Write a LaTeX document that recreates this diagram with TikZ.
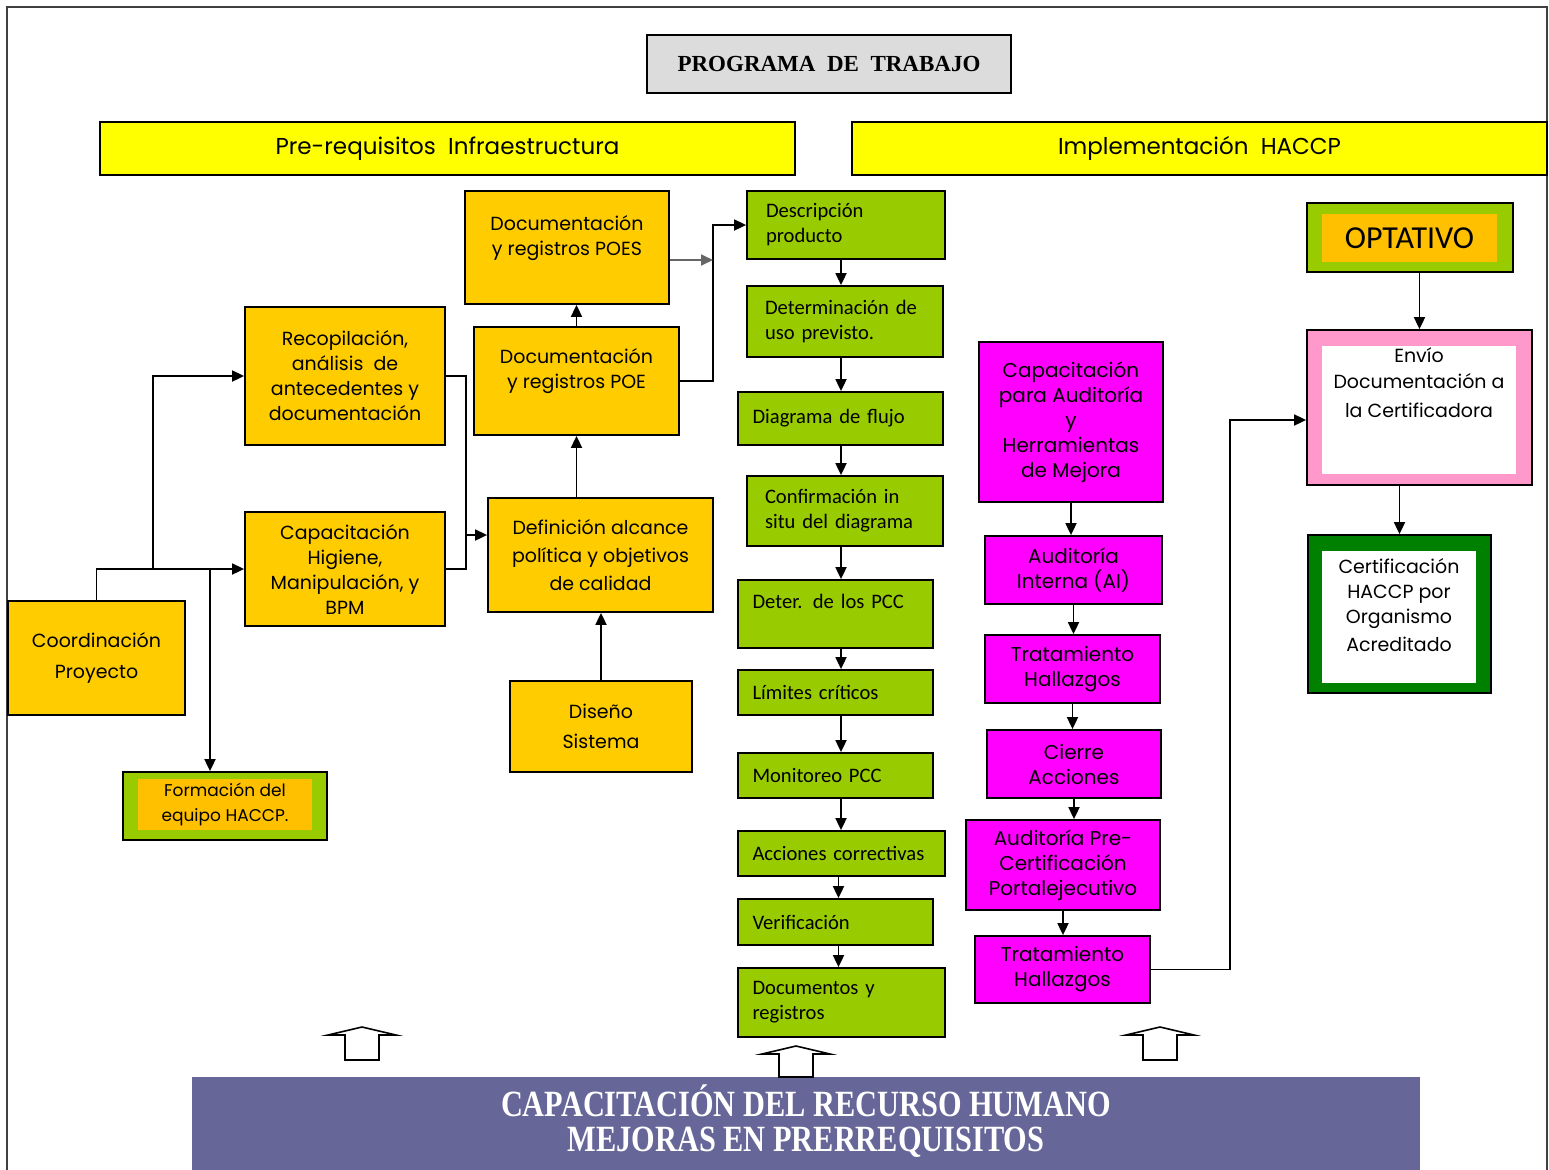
\documentclass[tikz,border=0pt]{standalone}
\usepackage{fontspec}
\setmainfont{Poppins}
\newfontfamily\calib{Carlito}
\newfontfamily\timesf{Liberation Serif}
\usetikzlibrary{arrows.meta}
\definecolor{ora}{HTML}{FFCC00}
\definecolor{oin}{HTML}{FFC000}
\definecolor{grn}{HTML}{99CC00}
\definecolor{mag}{HTML}{FF00FF}
\definecolor{yel}{HTML}{FFFF00}
\definecolor{pnk}{HTML}{FF99CC}
\definecolor{dgr}{HTML}{008000}
\definecolor{band}{HTML}{666699}
\definecolor{ttl}{HTML}{DCDCDC}
\newcommand\bx[7]{\node[#6, minimum width={(#4-#2)*0.5pt}, minimum height={(#5-#3)*0.5pt}] (#1) at ({(#2+#4)/2},{(#3+#5)/2}) {#7};}
\newcommand\uarr[3]{\draw[fill=white, line width=0.8pt] (#1,#2) -- ++(34,8) -- ++(-17,0) -- (#1+17,#3) -- (#1-17,#3) -- (#1-17,#2+8) -- ++(-17,0) -- cycle;}
\begin{document}
\begin{tikzpicture}[x=0.5pt,y=-0.5pt,
  base/.style={draw=black, line width=0.9pt, inner sep=0pt, align=center},
  obox/.style={base, fill=ora, font=\fontsize{9.5}{12.5}\selectfont},
  gbox/.style={base, fill=grn, font=\calib\fontsize{10.3}{12.5}\selectfont, align=left, text width={#1}},
  mbox/.style={base, fill=mag, font=\fontsize{10}{12.5}\selectfont},
  ybar/.style={base, fill=yel, font=\fontsize{11.5}{14}\selectfont},
  arr/.style={-{Triangle[length=6pt,width=5.5pt]}, line width=0.9pt},
  ]
\useasboundingbox (0,0) rectangle (1549,1169);
\fill[white] (0,0) rectangle (1549,1169);
\draw[line width=0.8pt, black!75] (7,1175) -- (7,7) -- (1547,7) -- (1547,1175);

% titles
\bx{title}{647}{35}{1011}{93}{base, fill=ttl, font=\timesf\bfseries\fontsize{11.5}{14}\selectfont}{PROGRAMA\ \ DE\ \ TRABAJO}
\bx{bar1}{100}{122}{795}{175}{ybar}{Pre-requisitos\ \ Infraestructura}
\bx{bar2}{852}{122}{1547}{175}{ybar}{Implementación\ \ HACCP}

% orange column
\bx{poes}{465}{191}{669}{304}{obox}{Documentación\\ y registros POES\\ ~}
\bx{recop}{245}{307}{445}{445}{obox}{Recopilación,\\ análisis\ \ de\\ antecedentes y\\ documentación}
\bx{poe}{474}{327}{679}{435}{obox}{Documentación\\ y registros POE\\ ~}
\bx{caph}{245}{512}{445}{626}{obox}{Capacitación\\ Higiene,\\ Manipulación, y\\ BPM}
\bx{defi}{488}{498}{713}{612}{obox, font=\fontsize{9.5}{14}\selectfont}{Definición alcance\\ política y objetivos\\ de calidad}
\bx{coord}{8}{601}{185}{715}{obox, font=\fontsize{9.5}{15.5}\selectfont}{Coordinación\\ Proyecto}
\bx{dis}{510}{681}{692}{772}{obox, font=\fontsize{9.5}{15}\selectfont}{Diseño\\ Sistema}
\bx{form}{123}{772}{327}{840}{base, fill=grn}{}
\bx{formi}{138}{779}{312}{830}{inner sep=0pt, fill=oin, align=center, font=\fontsize{8.5}{12.5}\selectfont}{Formación del\\ equipo HACCP.}

% green column
\bx{desc}{747}{191}{945}{259}{gbox=80pt}{Descripción\\ producto}
\bx{det}{747}{286}{943}{357}{gbox=80pt}{Determinación de\\ uso previsto.}
\bx{diag}{738}{392}{943}{445}{gbox=88pt}{Diagrama de flujo}
\bx{conf}{747}{476}{943}{546}{gbox=80pt}{Confirmación in\\ situ del diagrama}
\bx{pcc}{738}{580}{933}{648}{gbox=83pt}{Deter. de los PCC\\ ~}
\bx{lim}{738}{670}{933}{715}{gbox=83pt}{Límites críticos}
\bx{mon}{738}{753}{933}{798}{gbox=83pt}{Monitoreo PCC}
\bx{acc}{738}{831}{945}{876}{gbox=89pt}{Acciones correctivas}
\bx{ver}{738}{899}{933}{945}{gbox=83pt}{Verificación}
\bx{doc}{738}{968}{945}{1037}{gbox=89pt}{Documentos y\\ registros}

% magenta column
\bx{capa}{979}{342}{1163}{502}{mbox}{Capacitación\\ para Auditoría\\ y\\ Herramientas\\ de Mejora}
\bx{ai}{985}{536}{1162}{604}{mbox}{Auditoría\\ Interna (AI)}
\bx{tr}{985}{635}{1160}{703}{mbox}{Tratamiento\\ Hallazgos}
\bx{ci}{987}{730}{1161}{798}{mbox}{Cierre\\ Acciones}
\bx{pre}{966}{820}{1160}{910}{mbox}{Auditoría Pre-\\ Certificación\\ Portalejecutivo}
\bx{trb}{975}{936}{1150}{1003}{mbox}{Tratamiento\\ Hallazgos}

% right column
\bx{opt}{1307}{203}{1513}{272}{base, fill=grn}{}
\bx{opti}{1322}{214}{1497}{262}{inner sep=0pt, fill=oin, font=\calib\fontsize{16}{18}\selectfont}{OPTATIVO}
\bx{env}{1307}{330}{1532}{485}{base, fill=pnk}{}
\bx{envi}{1322}{346}{1516}{474}{inner sep=0pt, fill=white, align=center, font=\fontsize{9.5}{13}\selectfont}{Envío\\ Documentación a\\[1.5pt] la Certificadora\\[1pt] ~\\ ~}
\bx{cert}{1308}{535}{1491}{693}{base, fill=dgr}{}
\bx{certi}{1322}{551}{1476}{683}{inner sep=0pt, fill=white, align=center, font=\fontsize{9.5}{12.5}\selectfont}{Certificación\\ HACCP por\\ Organismo\\[1.5pt] Acreditado\\ ~}

% bottom band
\bx{band}{192}{1077}{1420}{1175}{inner sep=0pt, fill=band}{}
\node[inner sep=0pt, text=white, font=\timesf\bfseries\fontsize{18.5}{17.5}\selectfont, align=center] (bandtxt) at (806,1121) {\scalebox{0.82}[1]{CAPACITACIÓN DEL RECURSO HUMANO}\\ \scalebox{0.82}[1]{MEJORAS EN PRERREQUISITOS}};

% block arrows
\uarr{362}{1027}{1060}
\uarr{796}{1046}{1077}
\uarr{1160}{1027}{1060}

% connectors, left part
\coordinate (j1) at (153,569);
\coordinate (j2) at (210,569);
\coordinate (j3) at (466,535);
\coordinate (j4) at (713,225);
\coordinate (j5) at (713,260);
\coordinate (j6) at (1230,420);
\coordinate (gx) at (841,0);
\draw[arr] (coord.north) |- (caph.west);
\draw[arr] (j1) |- (recop.west);
\draw[arr] (j2) -- (j2 |- form.north);
\draw[line width=0.9pt] (recop.east) -| (j3);
\draw[line width=0.9pt] (caph.east) -| (j3);
\draw[arr] (j3) -- (defi.west |- j3);
\draw[arr] (poe.south |- defi.north) -- (poe.south);
\draw[arr] (poe.north) -- (poe.north |- poes.south);
\draw[arr] (dis.north) -- (dis.north |- defi.south);
\draw[arr] (poe.east) -| (j4) -- (desc.west);
\draw[arr, draw=black!60] (poes.east |- j5) -- (j5);

% green column connectors
\draw[arr] (desc.south -| gx) -- (det.north -| gx);
\draw[arr] (det.south -| gx) -- (diag.north -| gx);
\draw[arr] (diag.south -| gx) -- (conf.north -| gx);
\draw[arr] (conf.south -| gx) -- (pcc.north -| gx);
\draw[arr] (pcc.south -| gx) -- (lim.north -| gx);
\draw[arr] (lim.south -| gx) -- (mon.north -| gx);
\draw[arr] (mon.south -| gx) -- (acc.north -| gx);
\draw[arr] ([xshift=1.5pt]ver.north |- acc.south) -- ([xshift=1.5pt]ver.north);
\draw[arr] ([xshift=1.5pt]ver.south) -- ([xshift=1.5pt]ver.south |- doc.north);

% magenta connectors
\draw[arr] (capa.south) -- (capa.south |- ai.north);
\draw[arr] (ai.south) -- (ai.south |- tr.north);
\draw[arr] (tr.south) -- (tr.south |- ci.north);
\draw[arr] (ci.south) -- (ci.south |- pre.north);
\draw[arr] (pre.south) -- (pre.south |- trb.north);
\draw[arr] (trb.east) -| (j6) -- (env.west |- j6);

% right connectors
\draw[arr] (opt.south -| env.north) -- (env.north);
\draw[arr] (cert.north |- env.south) -- (cert.north);
\end{tikzpicture}
\end{document}
